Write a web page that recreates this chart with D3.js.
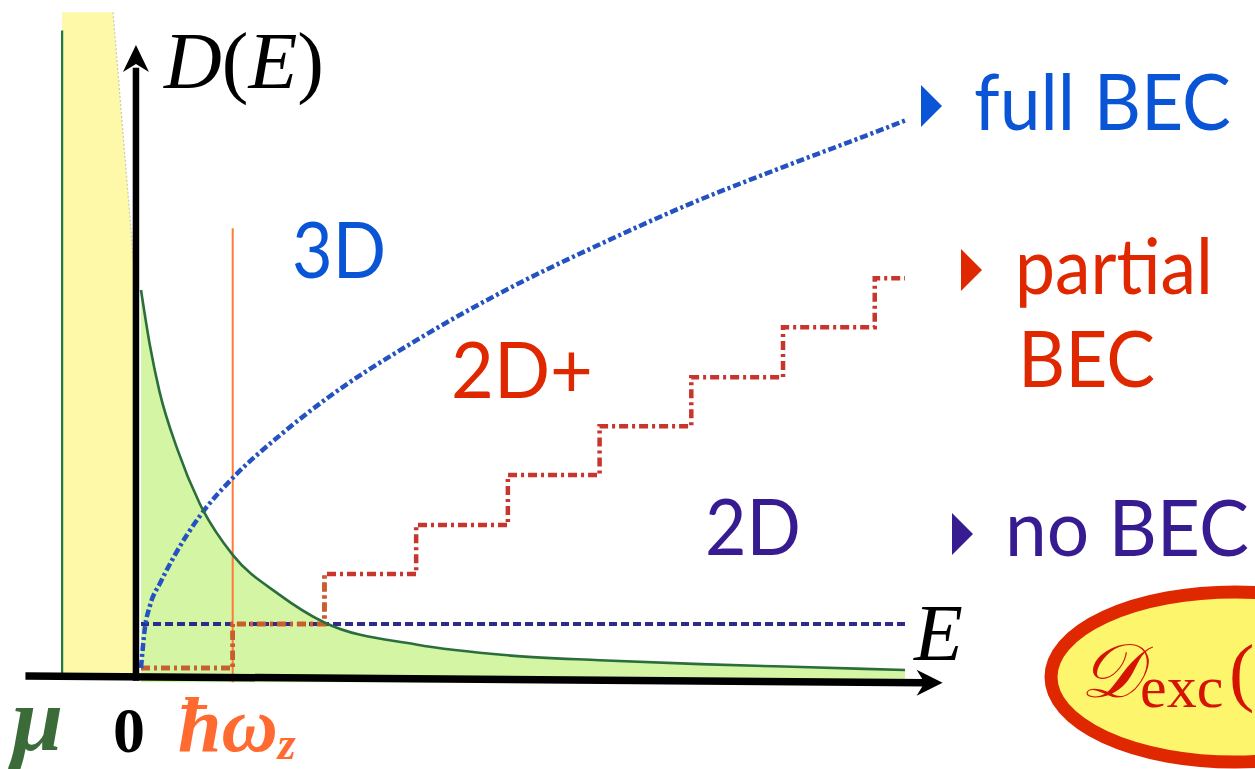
<!DOCTYPE html>
<html><head><meta charset="utf-8">
<script src="https://cdn.jsdelivr.net/npm/d3@7"></script>
<style>
html,body{margin:0;padding:0;background:#fff;overflow:hidden}
svg{display:block}
.sans{font-family:Lato,"Open Sans",sans-serif}
.serif{font-family:"Liberation Serif","DejaVu Serif",serif}
</style></head>
<body>
<script>
// ---- data (E in units of ħω_z, D in arbitrary units) ----
const muE = -0.86;
const hwE = 1.0;
const yellowE = [-0.86, -0.305, -0.055, -0.055];
const yellowD = [13.43, 13.43, 7.76, 0];
const thermalE = [0, 0.1, 0.2, 0.4, 0.64, 1.0, 1.5, 2.0, 3.0, 4.0, 5.0, 6.1, 7.2, 8.33];
const thermalD = [7.76, 6.6, 5.7, 4.49, 3.4, 2.35, 1.55, 0.97, 0.52, 0.3, 0.2, 0.12, 0.06, 0.0];
const dos3dE = [0, 0.04, 0.1, 0.21, 0.37, 0.64, 1.0, 1.52, 2.0, 3.0, 4.0, 5.0, 6.0, 7.0, 8.0, 8.33];
const dos3dD = [0.04, 0.82, 1.33, 1.78, 2.35, 3.14, 3.92, 4.80, 5.51, 6.73, 7.78, 8.69, 9.53, 10.27, 10.98, 11.22];
const stairE = [0, 1, 2, 3, 4, 5, 6, 7, 8, 8.33];
const stairD = [0.04, 0.94, 1.96, 2.96, 3.98, 4.98, 5.98, 7.0, 8.0, 8.0];
const dos2dE = [0, 8.33];
const dos2dD = [0.94, 0.94];
const regimeLabels = ["3D", "2D+", "2D"];
const outcomeLabels = ["full BEC", "partial", "BEC", "no BEC"];

const W = 1255, H = 769;
const svg = d3.select("body").append("svg").attr("width", W).attr("height", H);
const x = d3.scaleLinear().domain([0, 8.33]).range([141, 905]);
const y = d3.scaleLinear().domain([0, 13.6]).range([670, 4]);
const zip = (a, b) => a.map((v, i) => [v, b[i]]);

// yellow condensate band
svg.append("path").datum(zip(yellowE, yellowD))
  .attr("d", d3.area().x(d => x(d[0])).y0(y(-0.2)).y1(d => y(d[1])))
  .attr("fill", "#fdf9a8");
svg.append("path").datum(zip(yellowE.slice(1, 3), yellowD.slice(1, 3)))
  .attr("d", d3.line().x(d => x(d[0])).y(d => y(d[1])))
  .attr("fill", "none").attr("stroke", "#c9c9b8").attr("stroke-width", 1.2).attr("stroke-dasharray", "2,2");

// thermal fill
const th = zip(thermalE, thermalD);
svg.append("path").datum(th)
  .attr("d", d3.area().curve(d3.curveMonotoneX).x(d => x(d[0])).y0(y(-0.25)).y1(d => y(d[1])))
  .attr("fill", "#d3f5a4");

// mu line
svg.append("line").attr("x1", x(muE)).attr("x2", x(muE)).attr("y1", y(13.06)).attr("y2", y(-0.12))
  .attr("stroke", "#1b7a3e").attr("stroke-width", 2.2);
// hbar omega line
svg.append("line").attr("x1", x(hwE)).attr("x2", x(hwE)).attr("y1", y(9.02)).attr("y2", y(-0.25))
  .attr("stroke", "#ff7a3c").attr("stroke-width", 2);

// 2D line
svg.append("path").datum(zip(dos2dE, dos2dD))
  .attr("d", d3.line().x(d => x(d[0])).y(d => y(d[1])))
  .attr("fill", "none").attr("stroke", "#2e2a8e").attr("stroke-width", 4).attr("stroke-dasharray", "8,4");

// staircase
const st = zip(stairE, stairD);
svg.append("path").datum(st)
  .attr("d", d3.line().curve(d3.curveStepAfter).x(d => x(d[0])).y(d => y(d[1])))
  .attr("fill", "none").attr("stroke", "#c8352c").attr("stroke-width", 4.5).attr("stroke-dasharray", "9,4,3,4");
svg.append("path").datum(st.slice(0, 3))
  .attr("d", d3.line().curve(d3.curveStepAfter).x(d => x(d[0])).y(d => y(d[1])))
  .attr("fill", "none").attr("stroke", "#c8602c").attr("stroke-width", 4.5).attr("stroke-dasharray", "9,4,3,4");

// 3D curve
svg.append("path").datum(zip(dos3dE, dos3dD))
  .attr("d", d3.line().curve(d3.curveMonotoneX).x(d => x(d[0])).y(d => y(d[1])))
  .attr("fill", "none").attr("stroke", "#2452c2").attr("stroke-width", 4.5).attr("stroke-dasharray", "8,3,3,3");

// thermal curve
svg.append("path").datum(th)
  .attr("d", d3.line().curve(d3.curveMonotoneX).x(d => x(d[0])).y(d => y(d[1])))
  .attr("fill", "none").attr("stroke", "#2b6e3c").attr("stroke-width", 2.6);

// axes
const ax = svg.append("g");
const yAxX = x(-0.055);
ax.append("line").attr("x1", yAxX).attr("x2", yAxX).attr("y1", y(-0.22)).attr("y2", y(12.3))
  .attr("stroke", "#000").attr("stroke-width", 6.5);
const yTip = y(12.765);
ax.append("path").attr("d", `M${yAxX},${yTip} L${yAxX+13},${yTip+27} L${yAxX},${yTip+19} L${yAxX-13},${yTip+27} Z`).attr("fill", "#000");
const xl0 = x(-1.26), xl1 = x(8.55), yl0 = y(-0.12), yl1 = y(-0.26);
ax.append("line").attr("x1", xl0).attr("x2", xl1).attr("y1", yl0).attr("y2", yl1)
  .attr("stroke", "#000").attr("stroke-width", 7.5);
const xTip = x(8.74);
ax.append("path").attr("d", `M${xTip},${yl1} L${xTip-26},${yl1-13} L${xTip-18},${yl1} L${xTip-26},${yl1+13} Z`).attr("fill", "#000");

// axis titles (italic letters, upright parentheses)
const dT = svg.append("text").attr("class", "serif").attr("x", 164).attr("y", 88).attr("font-size", 80).attr("fill", "#000");
dT.append("tspan").attr("font-style", "italic").text("D");
dT.append("tspan").text("(");
dT.append("tspan").attr("font-style", "italic").text("E");
dT.append("tspan").text(")");
svg.append("text").attr("class", "serif").attr("x", 914).attr("y", 660).attr("font-size", 80)
  .attr("font-style", "italic").attr("fill", "#000").text("E");

// tick labels
svg.append("text").attr("class", "serif").attr("x", 12).attr("y", 750).attr("font-size", 92)
  .attr("font-style", "italic").attr("font-weight", "bold").attr("fill", "#3a6b38").text("μ");
svg.append("text").attr("class", "serif").attr("x", 113).attr("y", 752).attr("font-size", 64)
  .attr("font-weight", "bold").attr("fill", "#000").text("0");
const hw = svg.append("text").attr("class", "serif").attr("x", 178).attr("y", 751).attr("font-size", 78)
  .attr("font-style", "italic").attr("font-weight", "bold").attr("fill", "#ff6a30");
hw.append("tspan").text("ħω");
hw.append("tspan").attr("font-size", 46).attr("dy", 8).text("z");

// regime labels
function lab(t, x0, y0, col, len) {
  svg.append("text").attr("class", "sans").attr("x", x0).attr("y", y0).attr("font-size", 77)
    .attr("fill", col).attr("textLength", len).attr("lengthAdjust", "spacingAndGlyphs").text(t);
}
lab(regimeLabels[0], 292, 278, "#0a55d6", 94);
lab(regimeLabels[1], 451, 398, "#e02800", 142);
lab(regimeLabels[2], 705, 555, "#371b91", 96);

// outcome labels with triangles
function tri(cx, cy, col) {
  svg.append("path").attr("d", `M${cx},${cy-21} L${cx+21},${cy} L${cx},${cy+21} Z`).attr("fill", col);
}
tri(921, 106, "#0a55d6");
lab(outcomeLabels[0], 974, 130, "#0a55d6", 257);
tri(961, 270, "#e02800");
lab(outcomeLabels[1], 1015, 294, "#e02800", 198);
lab(outcomeLabels[2], 1018, 387, "#e02800", 137);
tri(952, 534, "#371b91");
lab(outcomeLabels[3], 1005, 556, "#371b91", 244);

// D_exc ellipse
svg.append("ellipse").attr("cx", 1235).attr("cy", 677).attr("rx", 184).attr("ry", 85)
  .attr("fill", "#fdf56c").attr("stroke", "#e02800").attr("stroke-width", 13);
const de = svg.append("text").attr("class", "serif").attr("y", 697).attr("font-size", 76).attr("fill", "#d41400");
de.append("tspan").attr("x", 1080).attr("font-style", "italic").text("𝒟");
de.append("tspan").attr("x", 1140).attr("font-size", 60).attr("dy", 10).text("exc");
de.append("tspan").attr("x", 1229).attr("dy", -10).text("(");
</script>
</body></html>
